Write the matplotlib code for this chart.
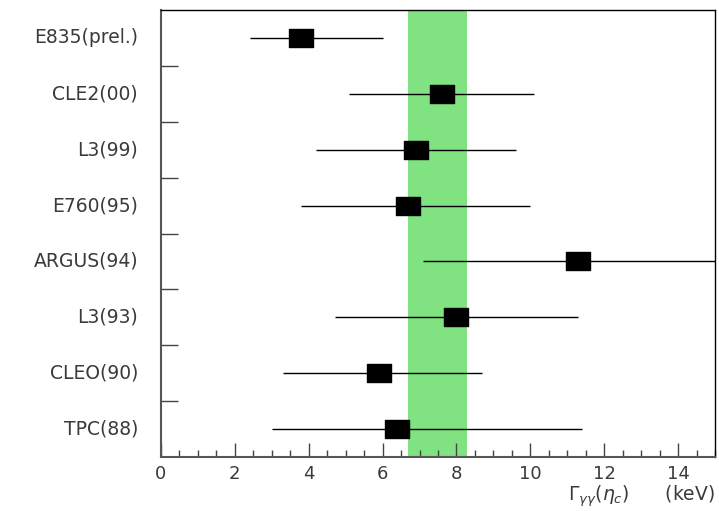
import matplotlib
matplotlib.use("Agg")
import matplotlib.pyplot as plt
from matplotlib.path import Path
from matplotlib.ticker import MultipleLocator

# Two-photon width measurements of the eta_c (keV)
experiments = ["E835(prel.)", "CLE2(00)", "L3(99)", "E760(95)",
               "ARGUS(94)", "L3(93)", "CLEO(90)", "TPC(88)"]
values = [3.8, 7.6, 6.9, 6.7, 11.3, 8.0, 5.9, 6.4]
err_low = [1.4, 2.5, 2.7, 2.9, 4.2, 3.3, 2.6, 3.4]
err_high = [2.2, 2.5, 2.7, 3.3, 4.2, 3.3, 2.8, 5.0]

# World-average band
band_low = 6.68
band_high = 8.28

fig = plt.figure(figsize=(7.19, 5.11), dpi=100)
ax = fig.add_axes([0.2239, 0.1057, 0.7705, 0.8747])

n = len(experiments)
ypos = [n - 0.5 - i for i in range(n)]

ax.axvspan(band_low, band_high, color="#80e280", zorder=0, lw=0)

ax.errorbar(values, ypos, xerr=[err_low, err_high], fmt="none",
            ecolor="black", elinewidth=1.0, capsize=0, zorder=2)

# Rectangular marker (wider than tall)
rect = Path([(-0.7, -0.5), (0.7, -0.5), (0.7, 0.5), (-0.7, 0.5), (-0.7, -0.5)],
            [Path.MOVETO, Path.LINETO, Path.LINETO, Path.LINETO, Path.CLOSEPOLY])
ax.plot(values, ypos, linestyle="none", marker=rect, markersize=17.3,
        color="black", zorder=3)

ax.set_xlim(0, 15)
ax.set_ylim(0, n)

txt_color = "#3a3a3a"
ax.set_yticks(range(1, n))
ax.set_yticklabels([])
ax.tick_params(axis="y", direction="in", length=12, width=1.0, color="#444444",
               left=True, right=False)
for y, name in zip(ypos, experiments):
    ax.text(-0.62, y, name, ha="right", va="center", fontsize=13.5,
            color=txt_color, transform=ax.transData, clip_on=False)

ax.xaxis.set_major_locator(MultipleLocator(2))
ax.xaxis.set_minor_locator(MultipleLocator(0.5))
ax.tick_params(axis="x", which="major", direction="in", length=10, width=1.0,
               color="#444444", labelsize=13, labelcolor=txt_color, pad=6,
               top=False)
ax.tick_params(axis="x", which="minor", direction="in", length=5, width=1.0,
               color="#444444", top=False)

for side in ["left", "bottom"]:
    ax.spines[side].set_color("#555555")
    ax.spines[side].set_linewidth(1.5)
for side in ["top", "right"]:
    ax.spines[side].set_color("black")
    ax.spines[side].set_linewidth(1.0)

fig.text(0.994, 0.004, r"$\Gamma_{\gamma\gamma}(\eta_c)$      (keV)",
         ha="right", va="bottom", fontsize=13.5, color=txt_color)

fig.savefig("out.png", dpi=100)
